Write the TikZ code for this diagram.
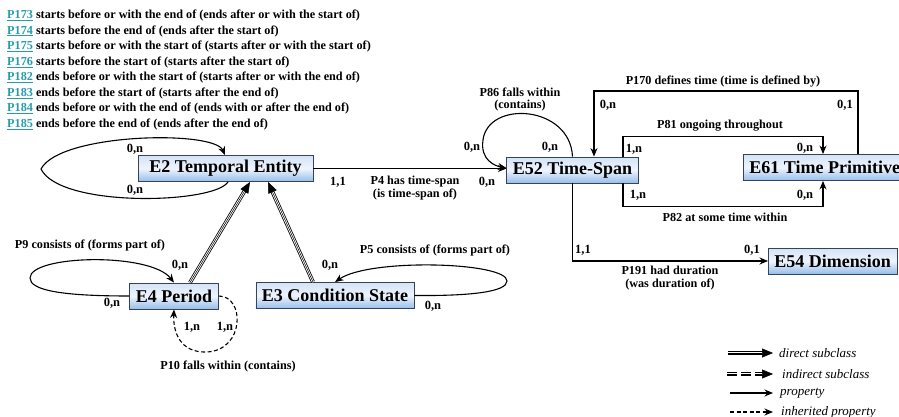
\documentclass[tikz,border=0pt]{standalone}
\usepackage{fontspec}
\setmainfont{Liberation Serif}
\usetikzlibrary{arrows.meta,positioning,calc}
\definecolor{boxtop}{RGB}{212,227,247}
\definecolor{boxmid}{RGB}{238,244,252}
\definecolor{boxbot}{RGB}{150,189,236}
\definecolor{boxline}{RGB}{55,68,88}
\definecolor{linkteal}{RGB}{38,156,170}
\newcommand{\plink}[1]{\textcolor{linkteal}{\underline{#1}}}
\tikzstyle{entity} = [rectangle, draw=boxline, line width=0.9pt, top color=boxtop, bottom color=boxbot, middle color=boxmid, minimum height=26pt, inner xsep=6pt, inner ysep=0pt, font=\fontsize{18}{20}\selectfont\bfseries]
\tikzstyle{card} = [inner sep=1pt, font=\fontsize{12.5}{13}\selectfont\bfseries]
\tikzstyle{plabel} = [inner sep=1pt, align=center, font=\fontsize{12.2}{12.5}\selectfont\bfseries]
\tikzstyle{defn} = [anchor=west, inner sep=0pt, font=\fontsize{12.2}{14}\selectfont\bfseries]
\tikzstyle{legtext} = [anchor=west, inner sep=0pt, font=\fontsize{13}{15}\selectfont\itshape]
\tikzstyle{prop} = [line width=1.1pt, -{Stealth[length=8.5pt,width=7pt]}]
\tikzstyle{inherit} = [prop, dash pattern=on 4pt off 2.5pt]
\tikzstyle{subline} = [line width=0.8pt, double distance=2.2pt, shorten >=9pt]
\tikzstyle{subtip} = [line width=0.5pt, -{Triangle[length=11pt,width=9pt]}]

\begin{document}
\begin{tikzpicture}[x=1pt, y=-1pt]
  \useasboundingbox (0,0) rectangle (899,417);
  % definitions of the temporal relations
  \node (d173) [defn] at (7,15.7) {\plink{P173} starts before or with the end of (ends after or with the start of)};
  \node (d174) [defn] at (7,31.2) {\plink{P174} starts before the end of (ends after the start of)};
  \node (d175) [defn] at (7,46.7) {\plink{P175} starts before or with the start of (starts after or with the start of)};
  \node (d176) [defn] at (7,62.2) {\plink{P176} starts before the start of (starts after the start of)};
  \node (d182) [defn] at (7,77.7) {\plink{P182} ends before or with the start of (starts after or with the end of)};
  \node (d183) [defn] at (7,93.2) {\plink{P183} ends before the start of (starts after the end of)};
  \node (d184) [defn] at (7,108.7) {\plink{P184} ends before or with the end of (ends with or after the end of)};
  \node (d185) [defn] at (7,124.2) {\plink{P185} ends before the end of (ends after the end of)};

  % classes
  \node (e2) [entity, minimum width=175pt] at (225.5,168.5) {E2 Temporal Entity};
  \node (e52) [entity] at (572.5,170) {E52 Time-Span};
  \node (e61) [entity, anchor=west] at (743,167.5) {E61 Time Primitive};
  \node (e54) [entity, anchor=west] at (768,261) {E54 Dimension};
  \node (e4) [entity] at (174,296) {E4 Period};
  \node (e3) [entity] at (335,295.5) {E3 Condition State};

  % E2 self loop
  \draw [prop] ([xshift=2.5pt]e2.south) .. controls (214,204) and (60,208) .. (41,169) .. controls (60,133) and (214,130) .. ([xshift=-0.5pt]e2.north);
  \node (c2a) [card] at (135,149) {0,n};
  \node (c2b) [card] at (135,190) {0,n};

  % subclasses of E2
  \draw [subline] ([xshift=16pt]e4.north) -- ([xshift=24.5pt]e2.south);
  \draw [subtip] ([xshift=16pt]e4.north) -- ([xshift=24.5pt]e2.south);
  \draw [subline] ([xshift=-22pt]e3.north) -- ([xshift=42.5pt]e2.south);
  \draw [subtip] ([xshift=-22pt]e3.north) -- ([xshift=42.5pt]e2.south);

  % P4
  \draw [prop] (e2.east) -- (e2.east -| e52.west);
  \node (c4a) [card] at (338,182) {1,1};
  \node (p4) [plabel] at (415,188) {P4 has time-span\\(is time-span of)};
  \node (c4b) [card] at (487,182) {0,n};

  % P86
  \draw [prop] (e52.north) .. controls (570,105) and (488,100) .. (483,140) .. controls (480,160) and (495,166) .. ([yshift=2pt]e52.west);
  \node (p86) [plabel] at (520,99.5) {P86 falls within\\(contains)};
  \node (c86a) [card] at (472,147) {0,n};
  \node (c86b) [card] at (550,147) {0,n};

  % P170
  \draw [prop] ([xshift=115pt]e61.north west) -- ++(0,-63) -| ([xshift=21.5pt]e52.north);
  \node (p170) [plabel] at (723,82) {P170 defines time (time is defined by)};
  \node (c170a) [card] at (608,105) {0,n};
  \node (c170b) [card] at (845,105) {0,1};

  % P81
  \draw [prop] ([xshift=50.5pt]e52.north) -- ++(0,-20) -| ([xshift=80pt]e61.north west);
  \node (p81) [plabel] at (720,126) {P81 ongoing throughout};
  \node (c81a) [card] at (634,149) {1,n};
  \node (c81b) [card] at (805,148) {0,n};

  % P82
  \draw [prop] ([xshift=50.5pt]e52.south) -- ++(0,23) -| ([xshift=80pt]e61.south west);
  \node (p82) [plabel] at (725,217) {P82 at some time within};
  \node (c82a) [card] at (638,195) {1,n};
  \node (c82b) [card] at (805,195) {0,n};

  % P191
  \draw [prop] (e52.south) |- (e54.west);
  \node (c191a) [card] at (583,250) {1,1};
  \node (c191b) [card] at (752,250) {0,1};
  \node (p191) [plabel] at (670,278) {P191 had duration\\(was duration of)};

  % P9
  \draw [prop] (e4.west) .. controls (60,296) and (30,290) .. (30,278) .. controls (30,255) and (150,252) .. (e4.north);
  \node (p9) [plabel] at (90,246) {P9 consists of (forms part of)};
  \node (c9a) [card] at (180,265) {0,n};
  \node (c9b) [card] at (112,303) {0,n};

  % P10
  \draw [inherit] (e4.east) .. controls (245,296) and (245,350) .. (207,352) .. controls (180,353) and (173,332) .. (e4.south);
  \node (c10a) [card] at (192,327) {1,n};
  \node (c10b) [card] at (225,327) {1,n};
  \node (p10) [plabel] at (228,366) {P10 falls within (contains)};

  % P5
  \draw [prop] (e3.east) .. controls (470,296) and (507,292) .. (507,281) .. controls (507,262) and (370,258) .. (e3.north);
  \node (p5) [plabel] at (435,251) {P5 consists of (forms part of)};
  \node (c5a) [card] at (330,265) {0,n};
  \node (c5b) [card] at (433,306) {0,n};

  % legend
  \coordinate (ld) at (728,353);
  \coordinate (li) at (727,374);
  \coordinate (lp) at (730,393);
  \coordinate (lh) at (730,412);
  \node (ltd) [legtext] at (779,353) {direct subclass};
  \node (lti) [legtext] at (782,374) {indirect subclass};
  \node (ltp) [legtext] at (780,393) {property};
  \node (lth) [legtext] at (781,412) {inherited property};
  \draw [subline] (ld) -- ([xshift=-6pt]ltd.west);
  \draw [subtip] (ld) -- ([xshift=-6pt]ltd.west);
  \draw [subline, dash pattern=on 10pt off 4pt] (li) -- ([xshift=-9pt]lti.west);
  \draw [subtip, dash pattern=on 10pt off 4pt] (li) -- ([xshift=-9pt]lti.west);
  \draw [prop] (lp) -- ([xshift=-7pt]ltp.west);
  \draw [inherit] (lh) -- ([xshift=-8pt]lth.west);
\end{tikzpicture}
\end{document}
